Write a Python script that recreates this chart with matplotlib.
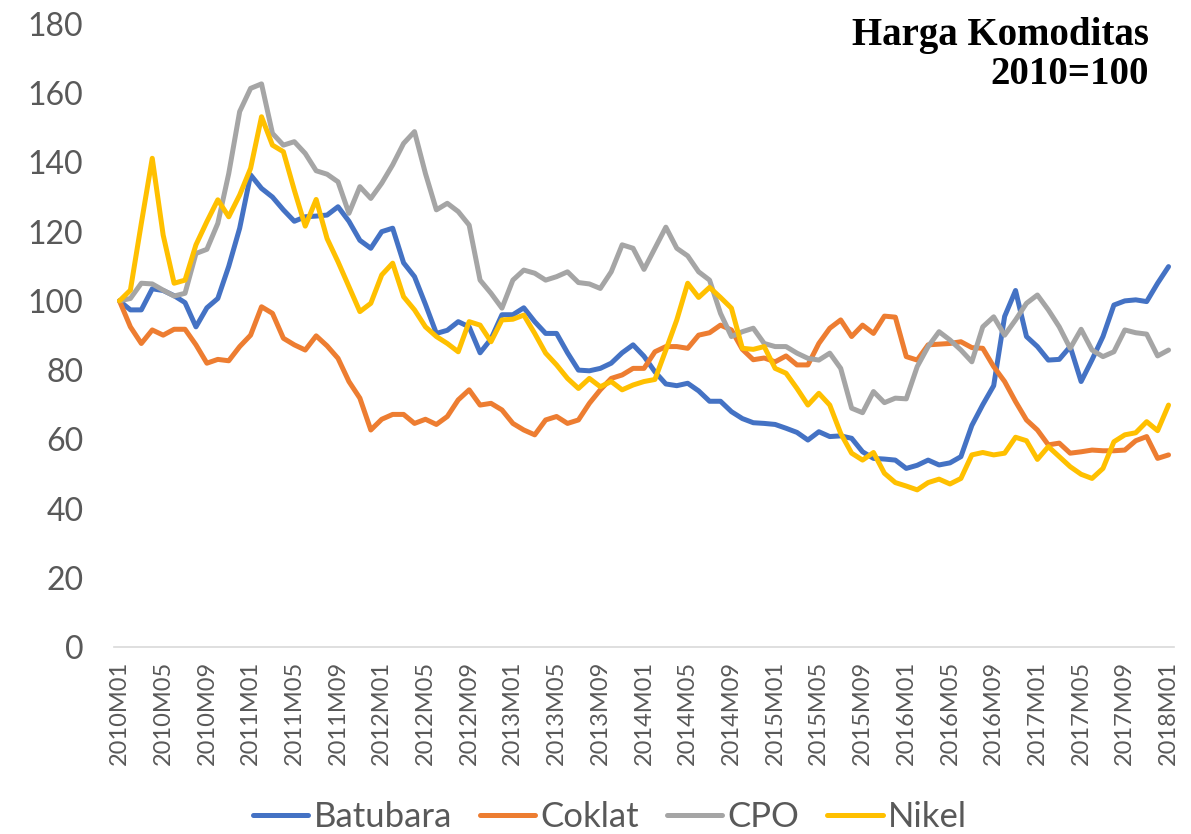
import numpy as np
import matplotlib
matplotlib.use('Agg')
import matplotlib.pyplot as plt

# monthly index 2010M01 .. 2018M01 (2010=100)
months = ['%dM%02d' % (y, m) for y in range(2010, 2019) for m in range(1, 13)][:97]

batubara = [100, 97.4, 97.4, 103.5, 103, 101.5, 99.5, 92.5, 98, 100.7, 110, 121,
            136.4, 132.5, 130, 126.3, 123, 124.3, 124.5, 124.8, 127.2, 123, 117.5, 115.2,
            120, 121, 111, 107, 99, 90.6, 91.5, 94, 92.5, 85, 89, 96,
            96, 98, 94, 90.6, 90.6, 85, 80, 79.8, 80.5, 82, 85, 87.3,
            84, 79.5, 76, 75.5, 76.2, 74, 71, 71, 68, 66, 64.8, 64.6,
            64.3, 63.2, 62, 59.8, 62.2, 60.8, 61, 60.3, 56.4, 54.5, 54.3, 54,
            51.6, 52.5, 54, 52.6, 53.2, 55, 64, 70, 75.5, 95.5, 103, 89.7,
            86.8, 82.9, 83.1, 86.8, 76.7, 83, 89.7, 98.8, 100, 100.3, 99.8, 105.1,
            109.9]
coklat = [100, 92.5, 87.7, 91.6, 90.1, 91.8, 91.8, 87.3, 82, 83.1, 82.7, 86.8,
          90.1, 98.3, 96.4, 89.2, 87.3, 85.8, 89.9, 87, 83.4, 76.7, 71.9, 62.7,
          65.8, 67.2, 67.2, 64.6, 65.8, 64.3, 66.6, 71.4, 74.3, 69.9, 70.4, 68.5,
          64.6, 62.7, 61.3, 65.6, 66.6, 64.6, 65.6, 70.4, 74.3, 77.6, 78.6, 80.5,
          80.5, 85.3, 86.8, 86.8, 86.3, 90.1, 90.8, 93, 91.6, 86, 83, 83.5,
          82.4, 84.1, 81.5, 81.5, 87.7, 92.1, 94.5, 89.7, 93, 90.6, 95.6, 95.3,
          83.9, 82.9, 87.3, 87.5, 87.7, 88.2, 86.5, 86.3, 81, 76.7, 70.9, 65.6,
          62.7, 58.4, 58.9, 56, 56.4, 56.9, 56.7, 56.7, 56.9, 59.6, 60.8, 54.5,
          55.5]
cpo = [100, 100.7, 105.1, 104.9, 103.1, 101.4, 102.2, 113.7, 114.9, 122.4, 136.8, 154.7,
       161.4, 162.7, 148.4, 145, 146, 142.6, 137.6, 136.6, 134.4, 125.3, 133, 129.6,
       134, 139.3, 145.5, 148.9, 136.8, 126.3, 128.2, 125.8, 121.9, 106, 102.2, 97.9,
       106, 108.9, 108, 106, 107, 108.4, 105.3, 104.9, 103.6, 108.4, 116.2, 115.2,
       109.1, 115.2, 121.3, 115.2, 113, 108.4, 106, 96.4, 89.7, 91.1, 92.1, 87.7,
       86.8, 86.8, 84.9, 83.4, 82.9, 84.9, 80.5, 69, 67.7, 73.8, 70.6, 71.9,
       71.7, 81, 86.8, 91.1, 88.7, 85.8, 82.4, 92.5, 95.4, 90.1, 94.5, 99.3,
       101.7, 97.4, 92.5, 86.3, 91.8, 85.8, 83.9, 85.3, 91.6, 90.8, 90.4, 84.1,
       85.8]
nikel = [100, 103.1, 122.4, 141.2, 119, 105.1, 106, 116.2, 122.9, 129.2, 124.3, 130.6,
         138.3, 153.2, 145, 143.1, 132, 121.6, 129.3, 118, 111.3, 104.1, 96.9, 99.3,
         107.5, 110.9, 101.2, 97.4, 92.5, 89.7, 87.7, 85.3, 94, 93, 88.2, 94.5,
         94.7, 95.9, 90.6, 84.9, 81.5, 77.6, 74.7, 77.6, 75.2, 76.7, 74.3, 75.7,
         76.7, 77.3, 85.8, 94.5, 105.1, 101, 103.9, 101, 97.9, 86.3, 86, 86.8,
         80.5, 79.1, 74.7, 69.9, 73.3, 69.9, 61.7, 56, 54, 56.2, 50.2, 47.5,
         46.5, 45.4, 47.5, 48.5, 47.1, 48.7, 55.5, 56.2, 55.5, 56, 60.6, 59.6,
         54.2, 57.9, 55, 52.1, 49.9, 48.7, 51.6, 59.3, 61.3, 61.9, 65.1, 62.5,
         69.9]

series = [('Batubara', batubara, '#4472C4'),
          ('Coklat', coklat, '#ED7D31'),
          ('CPO', cpo, '#A5A5A5'),
          ('Nikel', nikel, '#FFC000')]

plt.rcParams['font.family'] = ['Lato', 'DejaVu Sans']

fig = plt.figure(figsize=(11.91, 8.34), dpi=100)
ax = fig.add_axes([114 / 1191, 1 - 647 / 834, 1060 / 1191, 623 / 834])

x = np.arange(len(months))
for name, vals, col in series:
    ax.plot(x, vals, color=col, lw=3.6, label=name, solid_joinstyle='round', solid_capstyle='round')

ax.set_xlim(-0.5, len(months) - 0.5)
ax.set_ylim(0, 180)
ax.set_yticks(range(0, 181, 20))
ax.set_xticks(x[::4])
ax.set_xticklabels(months[::4], rotation=90)
ax.tick_params(axis='both', length=0, colors='#595959')
ax.tick_params(axis='y', labelsize=23, pad=22)
ax.tick_params(axis='x', labelsize=17, pad=10)
for s in ['left', 'right', 'top']:
    ax.spines[s].set_visible(False)
ax.spines['bottom'].set_color('#D9D9D9')
ax.spines['bottom'].set_linewidth(1.2)

ax.text(0.976, 1.012, 'Harga Komoditas\n2010=100', transform=ax.transAxes,
        ha='right', va='top', fontsize=28, fontweight='bold',
        family='Liberation Serif', linespacing=1.1, color='black')

fig.legend(loc='lower center', bbox_to_anchor=(0.512, -0.036), ncol=4, frameon=False,
           fontsize=25, handlelength=1.6, columnspacing=0.8, handletextpad=0.15,
           labelcolor='#595959')

fig.savefig('out.png', dpi=100)
